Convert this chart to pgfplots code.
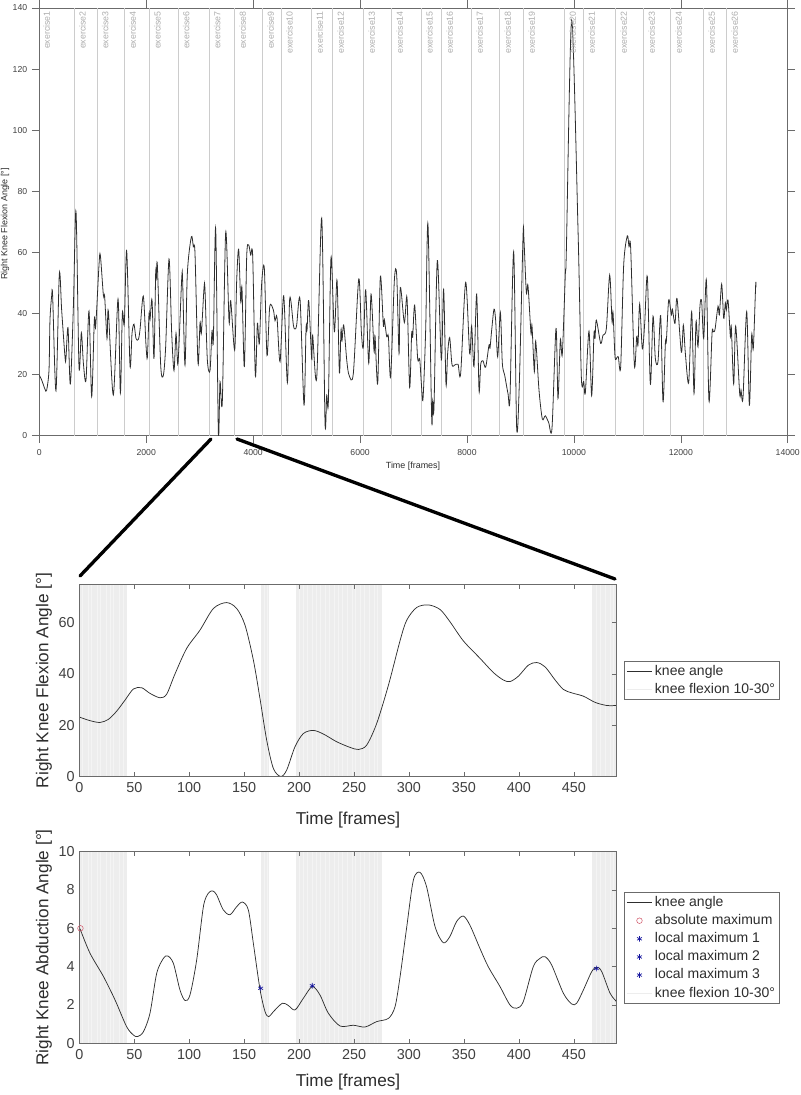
\documentclass[border=0pt]{standalone}
\usepackage{fontspec}
\setmainfont{Liberation Sans}
\usepackage{pgfplots}
\pgfplotsset{compat=1.18}
\usepackage{pgfplotstable}

\definecolor{axisgray}{gray}{0.42}
\definecolor{ticktext}{gray}{0.25}
\definecolor{linegray}{gray}{0.80}
\definecolor{exlabel}{gray}{0.68}
\definecolor{bandgray}{gray}{0.93}
\definecolor{stripegray}{gray}{0.955}
\definecolor{curve}{gray}{0.18}
\definecolor{mkred}{rgb}{0.82,0.35,0.42}
\definecolor{mkblue}{rgb}{0.08,0.08,0.62}

\pgfplotstableread{
x y
0 19.8
44 18.2
106 15.2
137 14.9
181 21.5
199 37.8
231 45.8
249 45.7
311 14.7
374 52.9
418 41
480 25.8
498 25.3
536 35.4
580 16.9
637 42.2
686 73.4
742 22.6
786 33.7
824 23.7
873 18.2
929 40.8
979 12.8
1029 38
1054 35.7
1116 55.8
1141 59.1
1198 46
1222 45.5
1266 31.8
1291 40.8
1384 13.3
1472 44.7
1516 13.9
1553 40
1590 36.7
1634 60.5
1696 23.1
1734 33.5
1771 36.5
1808 31.8
1852 31.5
1884 34.8
1945 45.7
1995 29.7
2021 25.6
2052 40
2071 38
2108 44.4
2145 25.3
2176 53.1
2189 51.5
2208 55.8
2270 23.1
2319 19.7
2363 29.1
2426 57.8
2476 33.5
2519 21.3
2557 33.5
2594 23.7
2663 51.3
2681 50.4
2725 23.1
2769 53.1
2844 65.1
2881 61.8
2912 59.6
2968 23.7
3006 37
3031 33.5
3080 48.2
3099 47.7
3143 24.8
3193 21.3
3230 34.4
3255 31
3299 67.7
3349 0.7
3380 17.7
3423 11.1
3486 66.5
3549 37.3
3580 44.2
3654 28
3692 50.9
3729 61
3767 43.8
3791 48.2
3835 22.6
3879 58.6
3916 62.4
3954 59.1
3991 58.8
4041 19.6
4079 36.7
4116 30.2
4159 49.8
4209 54.7
4259 26.2
4310 42.2
4378 41.1
4409 37.6
4446 38.7
4503 24.2
4571 45.8
4640 17.3
4684 44.9
4752 36.2
4783 34.9
4814 36.2
4877 44.6
4951 10
4989 35.1
5008 34.6
5039 44.2
5095 25
5113 32.9
5189 19
5282 71.2
5344 4.4
5376 13.3
5407 11.1
5456 58.3
5519 34
5569 50.9
5613 20.7
5643 34.6
5662 31.1
5694 36.2
5750 24.8
5794 19.8
5874 20.4
5975 51.3
6024 34
6061 29.1
6105 47.7
6162 23.7
6205 46.3
6261 27.7
6280 32.6
6330 17.1
6379 52
6435 36.2
6454 38
6498 32.4
6530 32.4
6572 19.3
6641 50.7
6685 52.6
6729 26.9
6753 48.5
6828 37
6878 45.1
6927 15.8
6965 33.5
6984 32.2
7021 42.7
7077 25.3
7115 25.1
7146 17.1
7177 12
7227 34.6
7270 69.2
7339 6
7358 11.5
7383 9.5
7445 57.3
7520 24.8
7563 47.9
7607 16.9
7638 26.9
7676 32.1
7719 23.3
7769 23.1
7832 23.4
7882 20.4
7975 50.2
8050 26.9
8087 35.9
8131 22.6
8181 46.3
8225 14.9
8256 23.3
8299 24.5
8349 22.4
8412 29.7
8430 28.6
8461 34.4
8505 41.4
8536 37.8
8574 25.8
8624 40.3
8661 23.7
8705 19.8
8767 13.8
8804 12.4
8873 60.2
8929 2.6
8979 17.1
9048 65.1
9066 64
9110 46.9
9141 49.1
9197 33.5
9216 36
9260 20.9
9285 31
9347 14.9
9409 5.5
9465 6.5
9528 4.3
9590 2.4
9665 35.1
9702 12.2
9746 31.3
9783 26.7
9840 53.1
9858 60
9958 136
10077 67.3
10139 19.3
10183 17.7
10214 14.1
10282 34.2
10332 13.1
10376 33.5
10395 31.8
10420 37.8
10501 30.2
10544 32.9
10607 35.1
10669 52.6
10713 37.3
10732 40.3
10769 25.8
10806 25.6
10831 25.8
10875 22.6
10931 55.8
10999 65.4
11031 61.8
11062 61.3
11131 23.1
11174 32.4
11199 29.7
11230 43.1
11280 28.4
11324 36.7
11374 52
11430 16.9
11480 39.1
11523 25.3
11573 24.2
11623 39.3
11667 11.1
11711 30.2
11729 30.8
11773 44.4
11823 39.5
11842 41.4
11891 36.7
11929 44.9
12010 27.3
12047 36.2
12085 26.9
12147 17.4
12203 40.6
12247 13.8
12284 37.3
12321 29.1
12359 42.7
12390 43.8
12428 31.8
12478 50.9
12527 11.3
12584 33.5
12608 34
12640 34.8
12696 42.4
12721 39.5
12764 49.6
12802 38.4
12833 43.5
12852 41.1
12883 44.4
12927 32.4
12945 35.4
12989 16.9
13026 35.9
13101 13.8
13126 14.9
13163 12.4
13232 40.6
13282 10
13325 32.9
13356 28.6
13400 49.3
13406 48.5
}\fulltrial

\pgfplotstableread{
x y
0 23.2
9.7 21.8
18.8 21.1
26.4 22.3
34 25.5
41.6 29.8
49.2 34.1
56.7 34.6
64.3 32.4
73.4 30.7
79.5 32.1
87 39.9
97.7 49.9
109.8 57
122 65.4
134 67.7
143.2 65.4
150.8 58.9
158.4 45.3
164.4 30.4
170.5 14.2
176.6 3.2
183.3 0.1
188.7 2.6
196.3 11.7
203.9 16.8
213 18
222.1 16.6
234.2 13.6
246.4 11.4
254 10.6
261.5 12.3
270.6 20.7
281.3 35.6
292 53.1
298 60.9
307 65.8
317.6 66.8
328.3 65
337.4 60.2
349.5 52.8
364.7 46
376.8 40.5
385.9 37.6
392 37
399.6 39.1
408.7 43.4
416.3 44.4
423.9 42.7
433 37.6
440.6 33.9
448.2 32.6
458.8 31.3
469.4 28.9
480 27.7
489 27.7
}\flexion

\pgfplotstableread{
x y
0.6 5.98
9.7 4.7
21.8 3.5
32.5 2.26
43 0.87
49.2 0.43
53 0.35
58.3 0.6
64.3 1.57
70.4 3.65
76.5 4.43
80.4 4.56
85.6 4.17
91.6 2.78
96.2 2.23
100.7 2.52
106.8 4.35
112.9 7.13
117.4 7.83
121.4 7.95
125 7.74
131 6.96
137.1 6.71
143.2 7.13
148.4 7.37
153.8 6.96
158.4 5.2
164.4 2.82
169 1.65
172.3 1.39
176.6 1.65
184.8 2.09
190.2 1.97
196.3 1.74
203.9 2.35
212 2.96
219 2.52
226.6 1.57
237.3 0.9
249.4 0.94
260 0.85
270.6 1.13
281.3 1.3
287.3 1.91
291.9 3.48
298 6.09
304 8.52
310 8.92
316 8.17
323.7 6.09
331.2 5.25
337.2 5.57
343.3 6.35
349.4 6.64
355.4 6.17
364.5 4.96
372.1 4
382.8 2.96
391.9 2
398 1.83
404 2.17
413.1 4
419.2 4.43
423.8 4.52
429.8 4.09
440.5 2.61
448.1 2.05
452.6 2.09
458.7 2.78
466.3 3.74
470.9 3.97
475.4 3.74
483 2.61
489 2.17
}\abduction

% frames in the 10-30 degree range show up as faint stripes
\pgfplotstableread{
x top
3 100
8 100
11 100
16 100
19 100
24 100
28 100
31 100
36 100
40 100
168 100
171 100
200 100
204 100
207 100
212 100
216 100
219 100
224 100
227 100
232 100
236 100
239 100
244 100
248 100
251 100
256 100
259 100
264 100
268 100
271 100
470 100
474 100
479 100
483 100
486 100
}\stripes

\pgfplotsset{
  longline/.style={legend image code/.code={\draw[##1] (0pt,0pt)--(18.75pt,0pt);}},
  onemark/.style={legend image code/.code={\draw[##1] plot coordinates {(9.4pt,0pt)};}},
  zoomaxis/.style={
    scale only axis,
    anchor=south west,
    width=403pt,
    axis on top,
    xmin=0, xmax=489,
    xtick={0,50,...,450},
    tick align=inside,
    xtick pos=both, xticklabel pos=left,
    ytick pos=right, yticklabel pos=left,
    major tick length=3.5pt,
    axis line style={axisgray},
    every tick/.style={axisgray,line width=0.4pt},
    tick label style={font=\fontsize{10.8}{12}\selectfont,text=ticktext,/pgf/number format/assume math mode=true},
    xticklabel style={yshift=-1pt},
    label style={font=\fontsize{12.9}{14}\selectfont,text=ticktext!70!black},
    legend cell align=left,
    legend style={font=\fontsize{10.5}{12}\selectfont,draw=axisgray,inner xsep=1.5pt,inner ysep=0.7pt,row sep=0pt,
      nodes={text height=8pt,text depth=2.2pt,inner ysep=1.7pt},
      anchor=north west,text=ticktext!70!black},
  },
}

\begin{document}
\begin{tikzpicture}
\useasboundingbox (0pt,0pt) rectangle (600pt,821.25pt);

% whole session
\begin{axis}[
  at={(29.5pt,494.5pt)}, anchor=south west, scale only axis,
  width=561.3pt, height=320.8pt,
  xmin=0, xmax=14000, ymin=0, ymax=140,
  xtick={0,2000,...,14000}, ytick={0,20,...,140},
  tick align=outside, tick pos=both,
  xticklabel pos=left, yticklabel pos=left,
  major tick length=5.6pt,
  scaled x ticks=false,
  axis line style={axisgray},
  every tick/.style={axisgray,line width=0.4pt},
  tick label style={font=\fontsize{6.5}{8}\selectfont,text=ticktext,/pgf/number format/assume math mode=true},
  x tick label style={/pgf/number format/1000 sep=,yshift=-1pt},
  xlabel={Time [frames]}, ylabel={Right Knee Flexion Angle [°]},
  label style={font=\fontsize{6.7}{8}\selectfont,text=ticktext!70!black},
  xlabel style={at={(axis description cs:0.4993,-0.0708)},anchor=center},
  ylabel style={at={(axis description cs:-0.0458,0.495)},anchor=center},
]
\addplot[ycomb,linegray,line width=0.5pt,mark=none,forget plot] coordinates {
  (649,140) (1079,140) (1590,140) (2052,140) (2594,140) (3174,140) (3648,140)
  (4172,140) (4521,140) (5089,140) (5481,140) (6061,140) (6585,140) (7140,140)
  (7521,140) (8082,140) (8606,140) (9055,140) (9822,140) (10177,140) (10776,140)
  (11300,140) (11805,140) (12422,140) (12852,140)
};
\addplot[draw=none,mark=none,forget plot,point meta=explicit symbolic,
  nodes near coords,
  every node near coord/.style={anchor=east,rotate=90,inner sep=0pt,text=exlabel,
    font=\fontsize{6.6}{8}\selectfont},
] coordinates {
  (140,139)[exercise1] (805,139)[exercise2] (1235,139)[exercise3] (1746,139)[exercise4]
  (2208,139)[exercise5] (2750,139)[exercise6] (3330,139)[exercise7] (3804,139)[exercise8]
  (4328,139)[exercise9] (4677,139)[exercise10] (5245,139)[exercise11] (5637,139)[exercise12]
  (6217,139)[exercise13] (6741,139)[exercise14] (7296,139)[exercise15] (7677,139)[exercise16]
  (8238,139)[exercise17] (8762,139)[exercise18] (9211,139)[exercise19] (9978,139)[exercise20]
  (10333,139)[exercise21] (10932,139)[exercise22] (11456,139)[exercise23] (11961,139)[exercise24]
  (12578,139)[exercise25] (13008,139)[exercise26]
};
\addplot[curve,line width=0.6pt,smooth,tension=0.5,mark=none,forget plot] table[x=x,y=y] {\fulltrial};
\end{axis}

% flexion detail
\begin{axis}[
  zoomaxis,
  at={(59.5pt,238.7pt)},
  height=144.3pt,
  ymin=0, ymax=74.8, ytick={0,20,40,60},
  xlabel={Time [frames]}, ylabel={Right Knee Flexion Angle [°]},
  xlabel style={at={(axis description cs:0.5,-0.225)},anchor=center},
  ylabel style={at={(axis description cs:-0.0657,0.5)},anchor=center},
  legend style={at={(axis description cs:1.0142,0.601)}},
]
\addplot[draw=none,fill=bandgray,forget plot] coordinates {(0,0)(0,75)(43,75)(43,0)} --cycle;
\addplot[draw=none,fill=bandgray,forget plot] coordinates {(165,0)(165,75)(173,75)(173,0)} --cycle;
\addplot[draw=none,fill=bandgray,forget plot] coordinates {(197,0)(197,75)(275,75)(275,0)} --cycle;
\addplot[draw=none,fill=bandgray,forget plot] coordinates {(467,0)(467,75)(489,75)(489,0)} --cycle;
\addplot[ycomb,stripegray,line width=0.3pt,mark=none,forget plot] table[x=x,y=top] {\stripes};
\addplot[curve,line width=0.55pt,smooth,mark=none,forget plot] table[x=x,y=y] {\flexion};
\addlegendimage{longline,curve,line width=0.55pt}
\addlegendentry{knee angle}
\addlegendimage{longline,bandgray,line width=0.5pt}
\addlegendentry{knee flexion 10-30°}
\end{axis}

% abduction detail
\begin{axis}[
  zoomaxis,
  at={(59.5pt,38.8pt)},
  height=143.7pt,
  ymin=0, ymax=10, ytick={0,2,...,10},
  xlabel={Time [frames]}, ylabel={Right Knee Abduction Angle [°]},
  xlabel style={at={(axis description cs:0.5,-0.2035)},anchor=center},
  ylabel style={at={(axis description cs:-0.0657,0.5)},anchor=center},
  legend style={at={(axis description cs:1.0142,0.788)}},
]
\addplot[draw=none,fill=bandgray,forget plot] coordinates {(0,0)(0,10)(43,10)(43,0)} --cycle;
\addplot[draw=none,fill=bandgray,forget plot] coordinates {(165,0)(165,10)(173,10)(173,0)} --cycle;
\addplot[draw=none,fill=bandgray,forget plot] coordinates {(197,0)(197,10)(275,10)(275,0)} --cycle;
\addplot[draw=none,fill=bandgray,forget plot] coordinates {(467,0)(467,10)(489,10)(489,0)} --cycle;
\addplot[ycomb,stripegray,line width=0.3pt,mark=none,forget plot] table[x=x,y=top] {\stripes};
\addplot[curve,line width=0.55pt,smooth,mark=none,forget plot] table[x=x,y=y] {\abduction};
\addplot[only marks,mark=o,mark size=2.1pt,mkred,mark options={line width=0.4pt},forget plot] coordinates {(1,6)};
\addplot[only marks,mark=asterisk,mark size=2.1pt,mkblue,mark options={line width=0.5pt},forget plot] coordinates {(165,2.87)};
\addplot[only marks,mark=asterisk,mark size=2.1pt,mkblue,mark options={line width=0.5pt},forget plot] coordinates {(212,3)};
\addplot[only marks,mark=asterisk,mark size=2.1pt,mkblue,mark options={line width=0.5pt},forget plot] coordinates {(470.5,3.9)};
\addlegendimage{longline,curve,line width=0.55pt}
\addlegendentry{knee angle}
\addlegendimage{onemark,only marks,mark=o,mark size=2.1pt,mkred,mark options={line width=0.4pt}}
\addlegendentry{absolute maximum}
\addlegendimage{onemark,only marks,mark=asterisk,mark size=2.1pt,mkblue,mark options={line width=0.5pt}}
\addlegendentry{local maximum 1}
\addlegendimage{onemark,only marks,mark=asterisk,mark size=2.1pt,mkblue,mark options={line width=0.5pt}}
\addlegendentry{local maximum 2}
\addlegendimage{onemark,only marks,mark=asterisk,mark size=2.1pt,mkblue,mark options={line width=0.5pt}}
\addlegendentry{local maximum 3}
\addlegendimage{longline,bandgray,line width=0.5pt}
\addlegendentry{knee flexion 10-30°}
\end{axis}

% connector strokes from the whole session down to the detail
\draw[black,line width=2.5pt,line cap=round] (158.25pt,492pt) -- (60pt,389.25pt);
\draw[black,line width=2.5pt,line cap=round] (177.75pt,492pt) -- (461.25pt,387pt);
\end{tikzpicture}
\end{document}
